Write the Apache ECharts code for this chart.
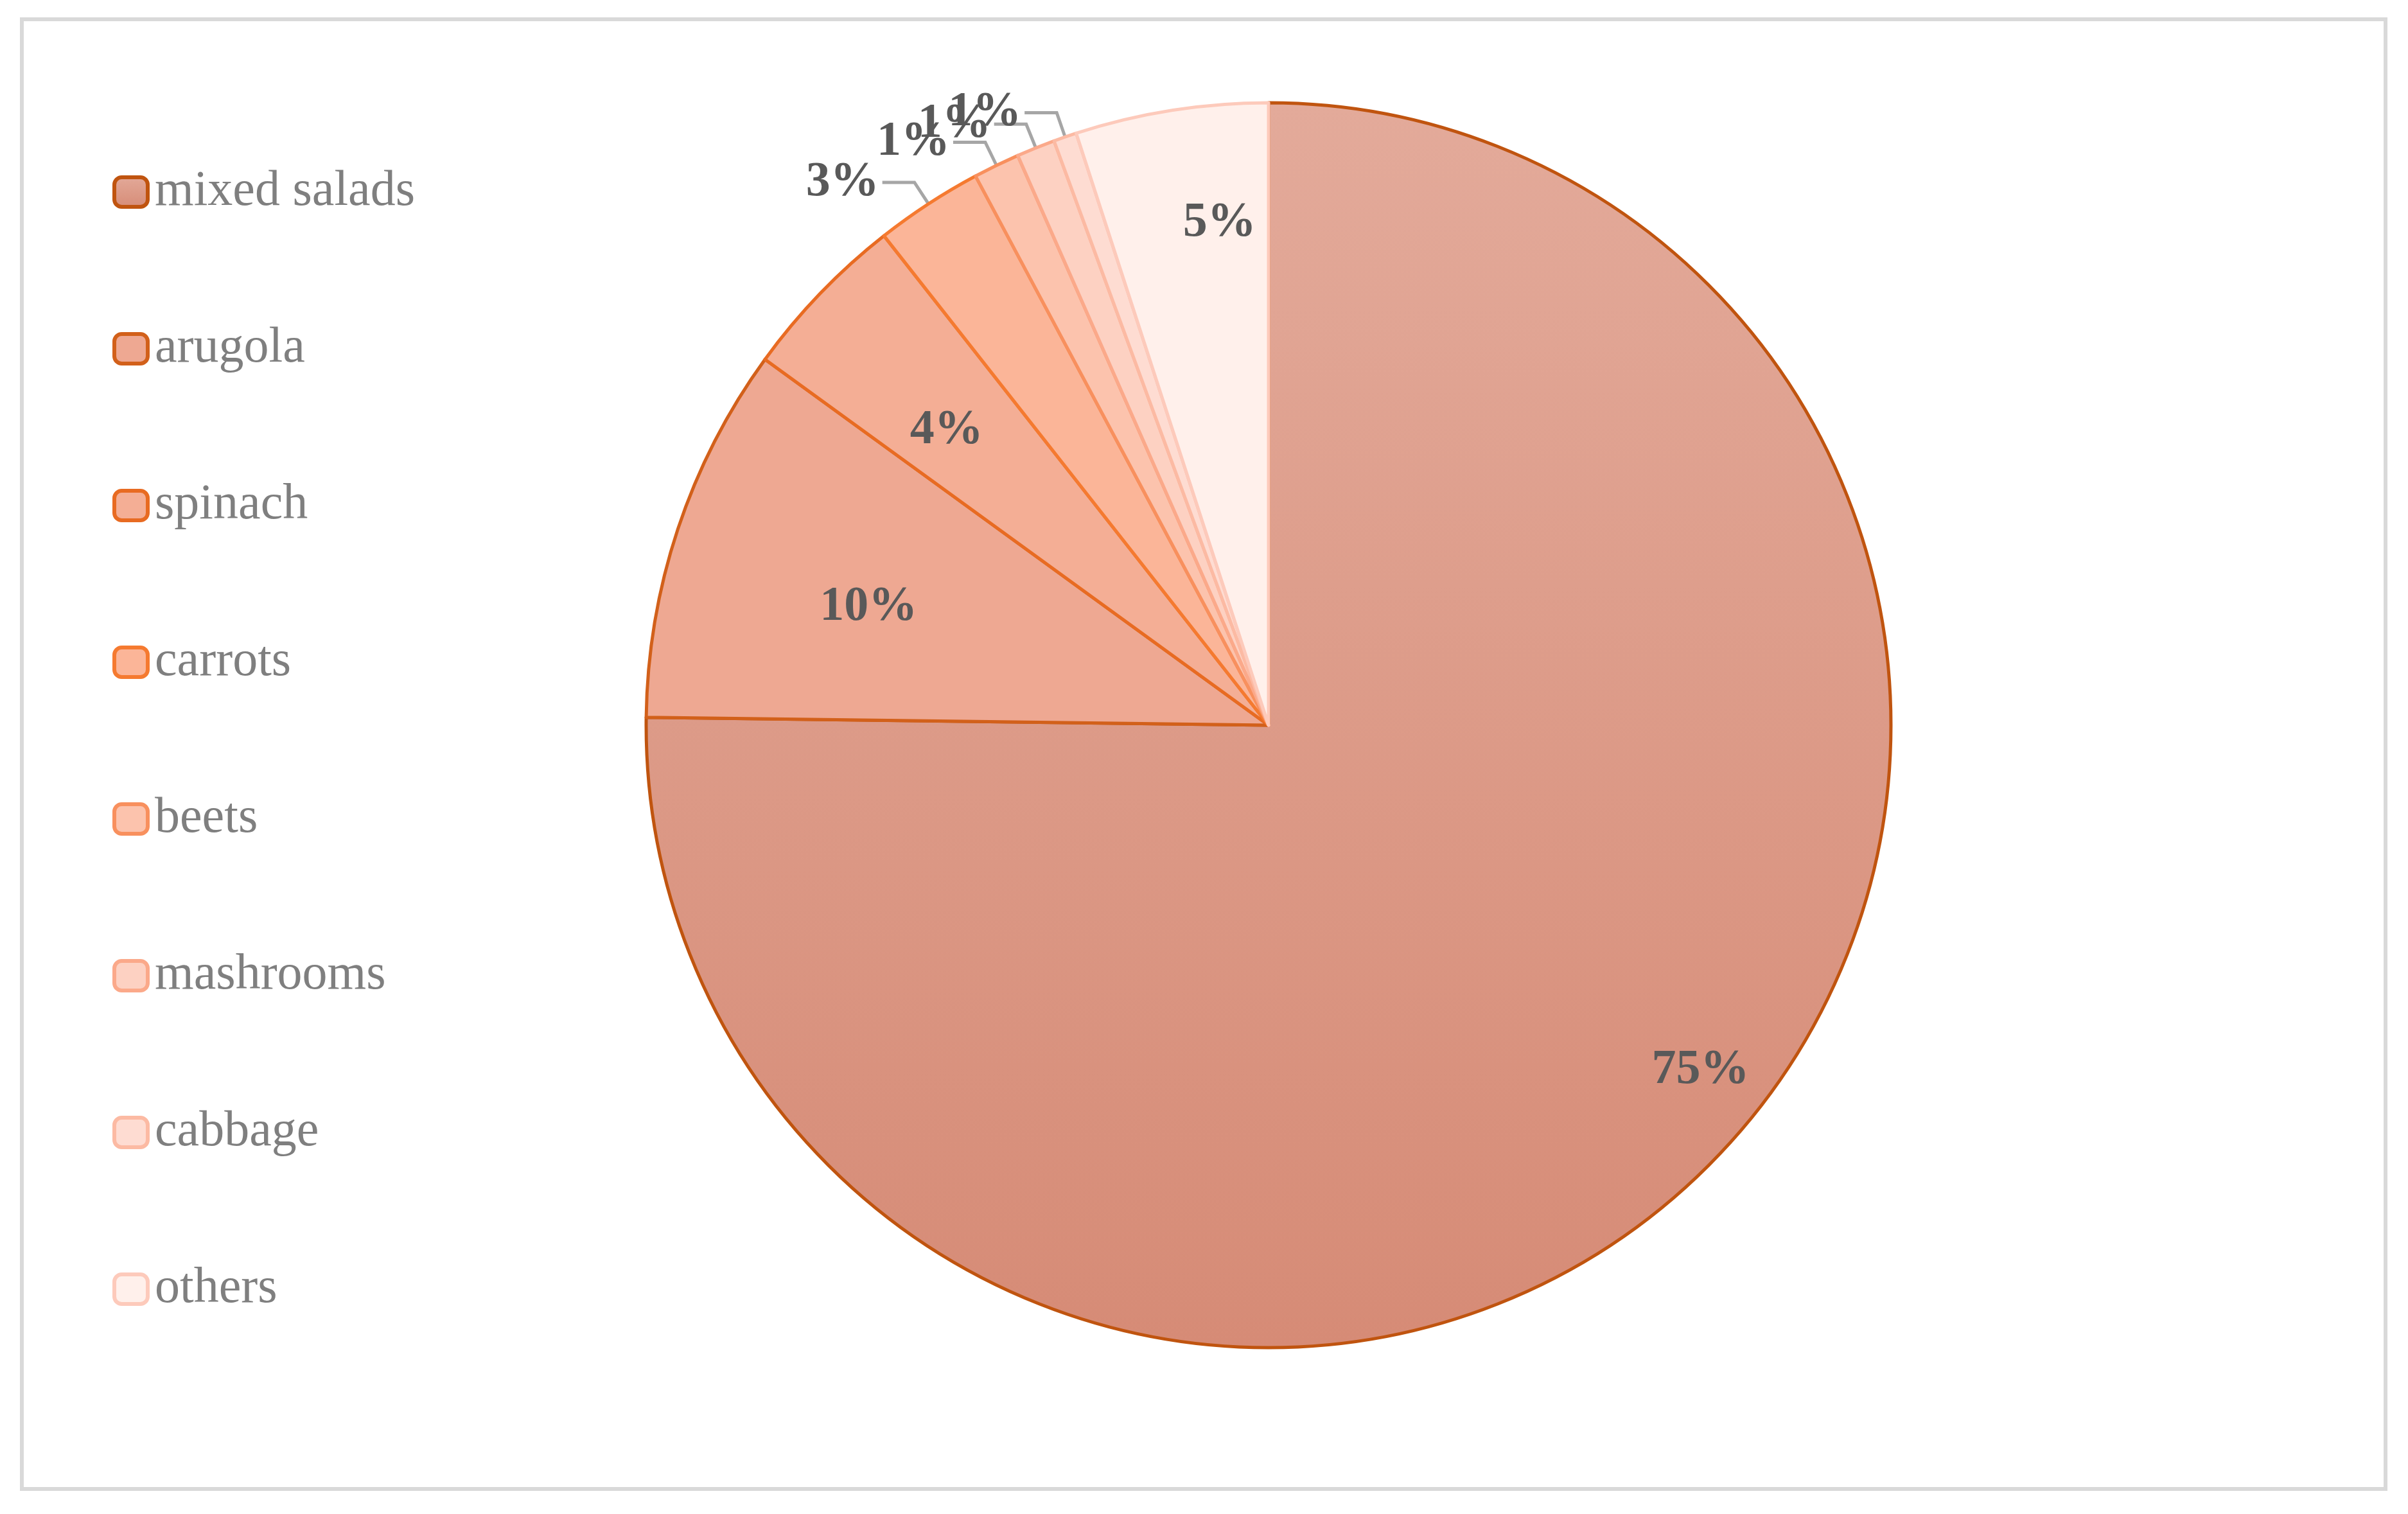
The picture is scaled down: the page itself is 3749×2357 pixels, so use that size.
<!DOCTYPE html>
<html><head><meta charset="utf-8">
<script src="https://cdn.jsdelivr.net/npm/echarts@6/dist/echarts.min.js"></script>
<style>html,body{margin:0;padding:0;background:#fff}#c{width:3749px;height:2357px}</style>
</head><body><div id="c"></div>
<script>
const categories = ['mixed salads','arugola','spinach','carrots','beets','mashrooms','cabbage','others'];
const values = [75.2, 9.8, 4.4, 2.8, 1.2, 1.0, 0.6, 5.0];
const fills = ['#dc9b88','#eea892','#f4ae95','#fbb598','#fcc3ad','#fdd1c2','#fedcd2','#fff0eb'];
const borders = ['#c0540f','#d2601a','#e86b22','#f57a30','#f8905e','#fba98a','#fcbaa3','#fdcabb'];
const labelPos = ['inside','inside','inside','outside','outside','outside','outside','inside'];

const font = '"Liberation Serif","DejaVu Serif",serif';
const data = categories.map((n,i)=>({
  name:n, value:values[i],
  itemStyle:{
    color: i===0 ? {type:'linear',x:0,y:0,x2:0,y2:1,colorStops:[{offset:0,color:'#e3aa9a'},{offset:1,color:'#d68b76'}]} : fills[i],
    borderColor:borders[i]
  },
  label:{position:labelPos[i]}
}));
const chart = echarts.init(document.getElementById('c'));
chart.setOption({
  animation:false,
  graphic:[{type:'rect',shape:{x:34,y:30,width:3680,height:2288},style:{fill:'none',stroke:'#d9d9d9',lineWidth:6}}],
  legend:{
    orient:'vertical', left:170, top:255, itemWidth:52, itemHeight:46, itemGap:166,
    textStyle:{fontFamily:font, fontSize:78, color:'#7f7f7f', padding:[0,0,0,6]},
    itemStyle:{borderWidth:6},
    data:categories
  },
  series:[{
    type:'pie', center:[1975,1129], radius:969, startAngle:90, clockwise:true,
    avoidLabelOverlap:false,
    itemStyle:{borderWidth:5},
    label:{formatter:p=>Math.round(p.value)+'%', fontFamily:font, fontSize:76, fontWeight:'bold', color:'#595959'},
    labelLine:{length:40,length2:50,lineStyle:{color:'#a6a6a6',width:5}},
    labelLayout:function(p){
      if(p.dataIndex===0) return {dx:330,dy:190};
      if(p.dataIndex===7) return {dy:-300};
      if(p.dataIndex===1) return {dx:-160,dy:-30};
      if(p.dataIndex===2) return {dx:-150,dy:-120};
      return {};
    },
    data:data
  }]
});
</script></body></html>
